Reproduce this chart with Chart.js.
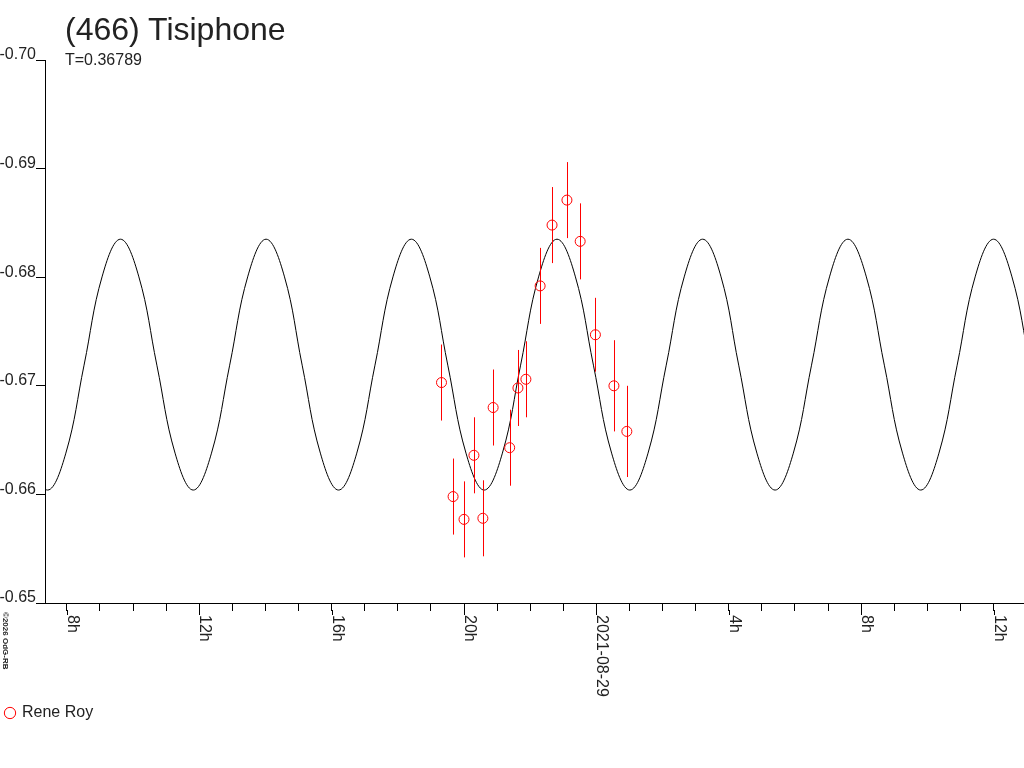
<!DOCTYPE html>
<html>
<head>
<meta charset="utf-8">
<script src="https://cdn.jsdelivr.net/npm/chart.js@4.4.0/dist/chart.umd.min.js"></script>
<style>
  body { margin: 0; background: #fff; }
  #wrap { position: relative; width: 1024px; height: 768px; font-family: "Liberation Sans", Arial, sans-serif; color: #222; }
  #title { position: absolute; left: 65px; top: 13px; font-size: 32px; line-height: 1; white-space: nowrap; }
  #sub { position: absolute; left: 65px; top: 52px; font-size: 16px; line-height: 1; white-space: nowrap; }
  #copy { position: absolute; left: 9px; top: 612px; font-size: 8px; font-weight: bold; line-height: 1; white-space: nowrap;
          transform-origin: 0 0; transform: rotate(90deg); }
</style>
</head>
<body>
<div id="wrap">
  <canvas id="lc" width="1024" height="768"></canvas>
  <div id="title">(466) Tisiphone</div>
  <div id="sub">T=0.36789</div>
  <div id="copy">©2026 OdG-RB</div>
</div>
<script>
// hours since 2021-08-28 00:00 UT
const obsHours = [19.32, 19.67, 20.00, 20.30, 20.57, 20.88, 21.38, 21.63, 21.87, 22.30, 22.66, 23.11, 23.51, 23.97, 24.53, 24.92];
const obsMag = [-0.6703, -0.6598, -0.6577, -0.6636, -0.6578, -0.6680, -0.6643, -0.6698, -0.6706, -0.6792, -0.6848, -0.6871, -0.6833, -0.6747, -0.6700, -0.6658];
const obsErr = [0.0035, 0.0035, 0.0035, 0.0035, 0.0035, 0.0035, 0.0035, 0.0035, 0.0035, 0.0035, 0.0035, 0.0035, 0.0035, 0.0034, 0.0042, 0.0042];

// fitted lightcurve
const fitHours = [6.87, 7.42, 7.97, 8.52, 9.07, 9.62, 10.17, 10.72, 11.27, 11.82, 12.37, 12.92, 13.47, 14.02,
  14.57, 15.11, 15.66, 16.21, 16.76, 17.31, 17.86, 18.41, 18.96, 19.51, 20.06, 20.61, 21.16, 21.71, 22.26,
  22.81, 23.36, 23.91, 24.46, 25.01, 25.56, 26.11, 26.66, 27.21, 27.76, 28.30, 28.85, 29.40, 29.95, 30.50,
  31.05, 31.60, 32.15, 32.70, 33.25, 33.80, 34.35, 34.90, 35.45, 36.00, 36.55, 37.10];
const fitMag = [-0.6638, -0.6604, -0.6638, -0.6719, -0.6801, -0.6835, -0.6801, -0.6719, -0.6638, -0.6604,
  -0.6638, -0.6719, -0.6801, -0.6835, -0.6801, -0.6719, -0.6638, -0.6604, -0.6638, -0.6719, -0.6801, -0.6835,
  -0.6801, -0.6719, -0.6638, -0.6604, -0.6638, -0.6719, -0.6801, -0.6835, -0.6801, -0.6719, -0.6638, -0.6604,
  -0.6638, -0.6719, -0.6801, -0.6835, -0.6801, -0.6719, -0.6638, -0.6604, -0.6638, -0.6719, -0.6801, -0.6835,
  -0.6801, -0.6719, -0.6638, -0.6604, -0.6638, -0.6719, -0.6801, -0.6835, -0.6801, -0.6719];

const tickHours = [8, 12, 16, 20, 24, 28, 32, 36];
const tickLabels = ['8h', '12h', '16h', '20h', '2021-08-29', '4h', '8h', '12h'];

const FONT = '"Liberation Sans", Arial, sans-serif';
Chart.defaults.font.family = FONT;

// vertical error bars through each point
const errorBars = {
  id: 'errorBars',
  afterDatasetsDraw(chart) {
    const { ctx, scales: { x, y } } = chart;
    ctx.save();
    ctx.strokeStyle = '#ff0000';
    ctx.lineWidth = 1;
    obsHours.forEach((h, i) => {
      const px = Math.round(x.getPixelForValue(h)) + 0.5;
      ctx.beginPath();
      ctx.moveTo(px, y.getPixelForValue(obsMag[i] - obsErr[i]));
      ctx.lineTo(px, y.getPixelForValue(obsMag[i] + obsErr[i]));
      ctx.stroke();
    });
    ctx.restore();
  }
};

// longer major ticks + labels written top to bottom
const hourLabels = {
  id: 'hourLabels',
  afterDraw(chart) {
    const { ctx, scales: { x } } = chart;
    ctx.save();
    ctx.strokeStyle = '#000';
    ctx.fillStyle = '#222';
    ctx.lineWidth = 1;
    ctx.font = '16px ' + FONT;
    ctx.textAlign = 'left';
    ctx.textBaseline = 'alphabetic';
    tickHours.forEach((h, i) => {
      const px = Math.round(x.getPixelForValue(h)) + 0.5;
      ctx.beginPath();
      ctx.moveTo(px, x.top + 7);
      ctx.lineTo(px, x.top + 12);
      ctx.stroke();
      ctx.save();
      ctx.translate(px + 0.5, x.top + 12);
      ctx.rotate(Math.PI / 2);
      ctx.fillText(tickLabels[i], 0, 0);
      ctx.restore();
    });
    ctx.restore();
  }
};

new Chart(document.getElementById('lc'), {
  type: 'scatter',
  data: {
    datasets: [
      {
        label: 'Rene Roy',
        data: obsHours.map((h, i) => ({ x: h, y: obsMag[i] })),
        showLine: false,
        pointStyle: 'circle',
        pointRadius: 5,
        borderWidth: 1,
        borderColor: '#ff0000',
        backgroundColor: 'rgba(255,255,255,0)'
      },
      {
        label: 'fit',
        data: fitHours.map((h, i) => ({ x: h, y: fitMag[i] })),
        showLine: true,
        borderColor: '#000',
        borderWidth: 1,
        pointRadius: 0,
        tension: 0.4,
        fill: false,
        clip: 0
      }
    ]
  },
  options: {
    responsive: false,
    animation: false,
    events: [],
    devicePixelRatio: 1,
    layout: { autoPadding: false, padding: { top: 60, bottom: 37, left: 0, right: 0 } },
    scales: {
      x: {
        type: 'linear',
        min: 7.34,
        max: 36.92,
        afterFit(s) { s.height = 96; s.paddingLeft = 0; s.paddingRight = 0; },
        ticks: { display: false, stepSize: 1, includeBounds: false },
        grid: { drawOnChartArea: false, drawTicks: true, tickLength: 8, color: '#000' },
        border: { display: true, color: '#000' }
      },
      y: {
        min: -0.70,
        max: -0.65,
        reverse: true,
        afterFit(s) { s.width = 45; },
        ticks: {
          stepSize: 0.01,
          padding: 0,
          labelOffset: -5,
          color: '#222',
          font: { size: 16 },
          callback: v => v.toFixed(2)
        },
        grid: { drawOnChartArea: false, drawTicks: true, tickLength: 9, color: '#000' },
        border: { display: true, color: '#000' }
      }
    },
    plugins: {
      legend: {
        position: 'bottom',
        align: 'start',
        labels: {
          usePointStyle: true,
          boxWidth: 8,
          boxHeight: 8,
          padding: 6,
          color: '#222',
          font: { size: 16 },
          filter: item => item.text !== 'fit'
        }
      },
      tooltip: { enabled: false }
    }
  },
  plugins: [errorBars, hourLabels]
});
</script>
</body>
</html>
